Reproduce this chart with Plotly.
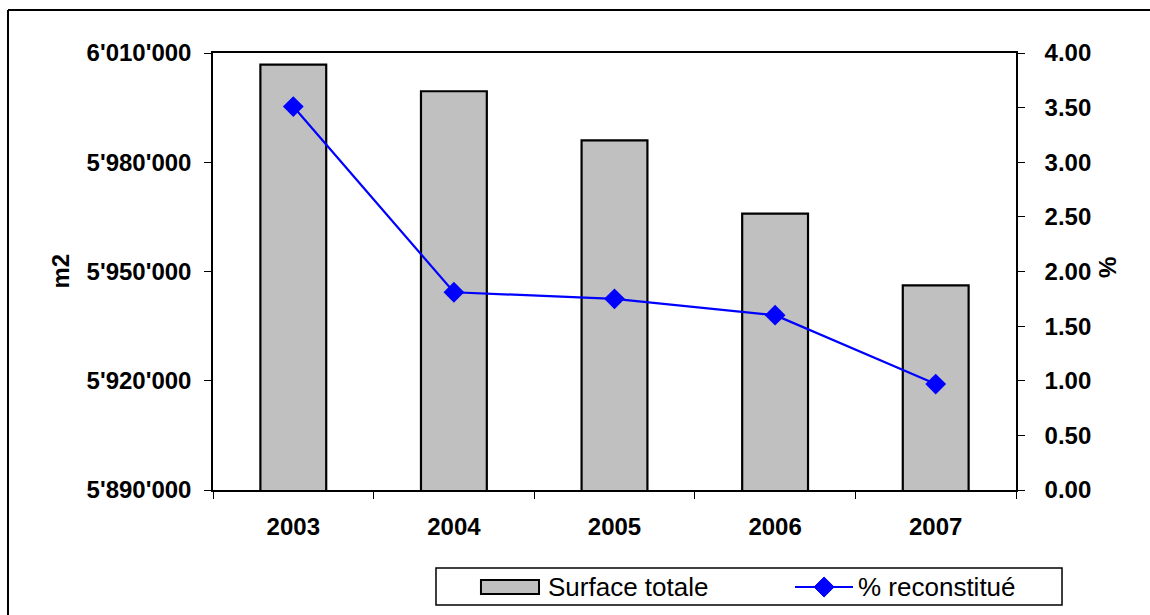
import plotly.graph_objects as go

# Data
years = ["2003", "2004", "2005", "2006", "2007"]
surface_totale = [6006800, 5999500, 5986000, 5965900, 5946200]
pct_reconstitue = [3.51, 1.81, 1.75, 1.60, 0.97]

# Series / axis labels
bar_name = "Surface totale"
line_name = "% reconstitué"
left_title = "m2"
right_title = "%"

FONT = "Liberation Sans, Arial, sans-serif"
BAR_COLOR = "#C0C0C0"
LINE_COLOR = "#0000FF"

fig = go.Figure()

fig.add_trace(go.Bar(
    x=years, y=surface_totale, name=bar_name,
    marker=dict(color=BAR_COLOR, line=dict(color="black", width=2.2)),
    yaxis="y", showlegend=False,
))

fig.add_trace(go.Scatter(
    x=years, y=pct_reconstitue, name=line_name, mode="lines+markers",
    line=dict(color=LINE_COLOR, width=2.2),
    marker=dict(symbol="diamond", size=16, color=LINE_COLOR),
    yaxis="y2", showlegend=False,
))

tick_font = dict(family=FONT, size=24, color="black", weight="bold")

fig.update_layout(
    width=1150, height=615,
    margin=dict(l=213, r=134, t=53, b=125),
    paper_bgcolor="white", plot_bgcolor="white",
    separators=".'",
    bargap=0.59,
    font=dict(family=FONT, color="black"),
    xaxis=dict(
        type="category", tickson="boundaries", ticks="outside", ticklen=7,
        tickwidth=1, tickcolor="black", showline=True, linecolor="black",
        linewidth=1.5, mirror=True, showgrid=False, tickfont=tick_font,
        ticklabelstandoff=14,
    ),
    # inside half of the cross-style category ticks
    xaxis2=dict(
        overlaying="x", anchor="y", range=[-0.5, 4.5],
        tickvals=[0.5, 1.5, 2.5, 3.5], ticks="inside", ticklen=7,
        tickcolor="black", showticklabels=False, showgrid=False,
        zeroline=False, showline=False,
    ),
    yaxis=dict(
        range=[5890000, 6010000], dtick=30000, tick0=5890000,
        tickformat=",d", ticks="outside", ticklen=7, tickcolor="black",
        showline=True, linecolor="black", linewidth=1.5, showgrid=False,
        zeroline=False, tickfont=tick_font, ticklabelstandoff=8,
    ),
    yaxis2=dict(
        range=[0, 4], dtick=0.5, tick0=0, tickformat=".2f",
        overlaying="y", side="right", anchor="x",
        ticks="outside", ticklen=7, tickcolor="black",
        showline=True, linecolor="black", linewidth=1.5, showgrid=False,
        zeroline=False, tickfont=tick_font, ticklabelstandoff=15,
    ),
    yaxis3=dict(
        range=[5890000, 6010000], dtick=30000, tick0=5890000,
        overlaying="y", side="left", anchor="x", ticks="inside", ticklen=7,
        tickcolor="black", showticklabels=False, showgrid=False,
        zeroline=False, showline=False,
    ),
    yaxis4=dict(
        range=[0, 4], dtick=0.5, tick0=0,
        overlaying="y", side="right", anchor="x", ticks="inside", ticklen=7,
        tickcolor="black", showticklabels=False, showgrid=False,
        zeroline=False, showline=False,
    ),
)

# Axis titles
fig.add_annotation(text=left_title, xref="paper", yref="paper",
                   x=-0.1905, y=0.50, xanchor="center", yanchor="middle",
                   showarrow=False, textangle=-90,
                   font=dict(family=FONT, size=24, weight="bold", color="black"))
fig.add_annotation(text=right_title, xref="paper", yref="paper",
                   x=1.1133, y=0.51, xanchor="center", yanchor="middle",
                   showarrow=False, textangle=-90,
                   font=dict(family=FONT, size=24, weight="bold", color="black"))

# Outer chart frame (left and top edges)
fig.add_shape(type="line", xref="paper", yref="paper",
              x0=-0.2553, x1=-0.2553, y0=-0.5, y1=1.0984,
              line=dict(color="black", width=2))
fig.add_shape(type="line", xref="paper", yref="paper",
              x0=-0.2553, x1=1.5, y0=1.0984, y1=1.0984,
              line=dict(color="black", width=2))

# Legend box
fig.add_shape(type="rect", xref="paper", yref="paper",
              x0=0.2777, x1=1.0573, y0=-0.2632, y1=-0.1785,
              line=dict(color="black", width=1.5), fillcolor="white")
# Bar swatch
fig.add_shape(type="rect", xref="paper", yref="paper",
              x0=0.3337, x1=0.406, y0=-0.238, y1=-0.206,
              line=dict(color="black", width=2), fillcolor=BAR_COLOR)
fig.add_annotation(text=bar_name, xref="paper", yref="paper",
                   x=0.4147, y=-0.222, xanchor="left", yanchor="middle",
                   showarrow=False,
                   font=dict(family=FONT, size=26, color="black"))
# Line swatch with diamond
fig.add_shape(type="line", xref="paper", yref="paper",
              x0=0.7248, x1=0.797, y0=-0.222, y1=-0.222,
              line=dict(color=LINE_COLOR, width=2))
dx, dy = 0.0125, 0.0229
cx, cy = 0.761, -0.222
fig.add_shape(type="path", xref="paper", yref="paper",
              path=f"M {cx-dx},{cy} L {cx},{cy+dy} L {cx+dx},{cy} L {cx},{cy-dy} Z",
              line=dict(color=LINE_COLOR, width=1), fillcolor=LINE_COLOR)
fig.add_annotation(text=line_name, xref="paper", yref="paper",
                   x=0.8007, y=-0.222, xanchor="left", yanchor="middle",
                   showarrow=False,
                   font=dict(family=FONT, size=26, color="black"))

fig.write_html("out.html")
